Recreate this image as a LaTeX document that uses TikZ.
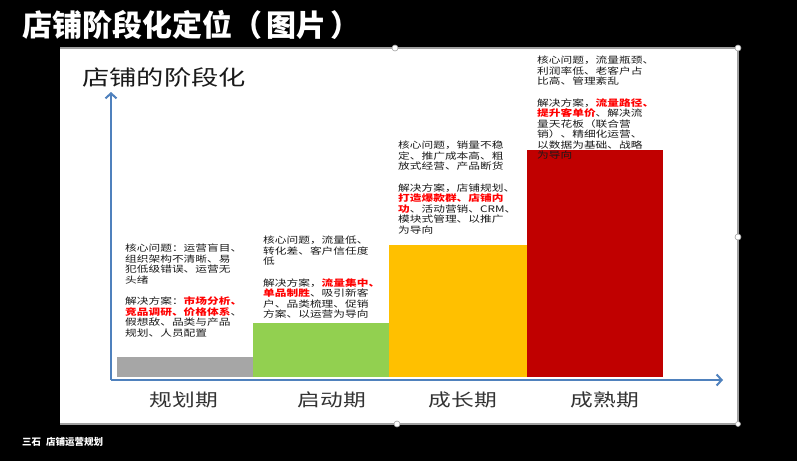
\documentclass[tikz,border=0pt]{standalone}
\usepackage{fontspec}
\usetikzlibrary{arrows.meta}
\newfontfamily\cjk{Noto Sans CJK SC}
\newfontfamily\pf[FakeStretch=1.3]{Noto Sans CJK SC}
\definecolor{axisblue}{HTML}{4F81BD}
\definecolor{txt}{HTML}{1A1A1A}
\definecolor{lbl}{HTML}{333333}
\definecolor{hlred}{HTML}{FF0000}
\definecolor{bargray}{HTML}{A6A6A6}
\definecolor{bargreen}{HTML}{92D050}
\definecolor{barorange}{HTML}{FFC000}
\definecolor{barred}{HTML}{C00000}
\definecolor{frame}{HTML}{A0A0A0}
\newcommand\redb[1]{{\bfseries\color{hlred}#1}}
\begin{document}
\begin{tikzpicture}[x=1pt,y=-1pt,
  body/.style={anchor=north west, inner sep=0pt, align=left, text=txt,
    font=\pf\fontsize{9}{10.5}\selectfont},
  stage/.style={inner sep=0pt, text=lbl, font=\pf\fontsize{17.5}{20}\selectfont},
  axis/.style={draw=axisblue, line width=2.5pt, -{Straight Barb[length=5pt,width=11pt,line width=2pt]}},
  handle/.style={draw=frame, fill=white, line width=0.6pt}]
\fill[black] (0,0) rectangle (797,461);
\useasboundingbox (0,0) rectangle (797,461);
% title
\node[anchor=west, inner sep=0pt, text=white, font=\cjk\bfseries\fontsize{30}{34}\selectfont] (title) at (22,25) {店铺阶段化定位（\kern4pt图片\kern4pt）};
\node[anchor=west, inner sep=0pt, text=white, font=\cjk\bfseries\fontsize{9.5}{11}\selectfont] (footer) at (22,442) {三石\kern5pt 店铺运营规划};
% panel
\fill[white] (60,48) rectangle (738,424);
\draw[frame, line width=1.5pt] (60,48) -- (738,48) -- (738,424) -- (60,424);
% bars
\fill[bargray] (117,357) rectangle (253,377);
\fill[bargreen] (253,323) rectangle (389,377);
\fill[barorange] (389,245) rectangle (527,377);
\fill[barred] (527,150) rectangle (663,377);
% axes
\coordinate (o) at (111,380);
\coordinate (ytip) at (111,92);
\coordinate (xtip) at (723,380);
\draw[axis] (o) -- (ytip);
\draw[axis] (o) -- (xtip);
% inner title
\node[anchor=west, inner sep=0pt, text=txt, font=\pf\fontsize{21}{24}\selectfont] (sub) at (82,77) {店铺的阶段化};
% text blocks
\node[body] (b1) at (125,244) {核心问题：运营盲目、\\组织架构不清晰、易\\犯低级错误、运营无\\头绪\\[11pt]解决方案：\redb{市场分析、}\\\redb{竞品调研、价格体系}、\\假想敌、品类与产品\\规划、人员配置};
\node[body] (b2) at (263,236) {核心问题，流量低、\\转化差、客户信任度\\低\\[11pt]解决方案，\redb{流量集中、}\\\redb{单品制胜}、吸引新客\\户、品类梳理、促销\\方案、以运营为导向};
\node[body] (b3) at (398,141) {核心问题，销量不稳\\定、推广成本高、粗\\放式经营、产品断货\\[11pt]解决方案，店铺规划、\\\redb{打造爆款群、店铺内}\\\redb{功}、活动营销、CRM、\\模块式管理、以推广\\为导向};
\node[body] (b4) at (537,56) {核心问题，流量瓶颈、\\利润率低、老客户占\\比高、管理紊乱\\[11pt]解决方案，\redb{流量路径、}\\\redb{提升客单价}、解决流\\量天花板（联合营\\销）、精细化运营、\\以数据为基础、战略\\为导向};
% stage labels
\node[stage] (s1) at (184,400) {规划期};
\node[stage] (s2) at (332,400) {启动期};
\node[stage] (s3) at (463,400) {成长期};
\node[stage] (s4) at (605,400) {成熟期};
% handles
\draw[handle] (395,48) circle (3pt);
\draw[handle] (738,48) circle (3pt);
\draw[handle] (738,237) circle (3pt);
\draw[handle] (397,424) circle (3pt);
\draw[handle] (738,424) circle (2.5pt);
\end{tikzpicture}
\end{document}
